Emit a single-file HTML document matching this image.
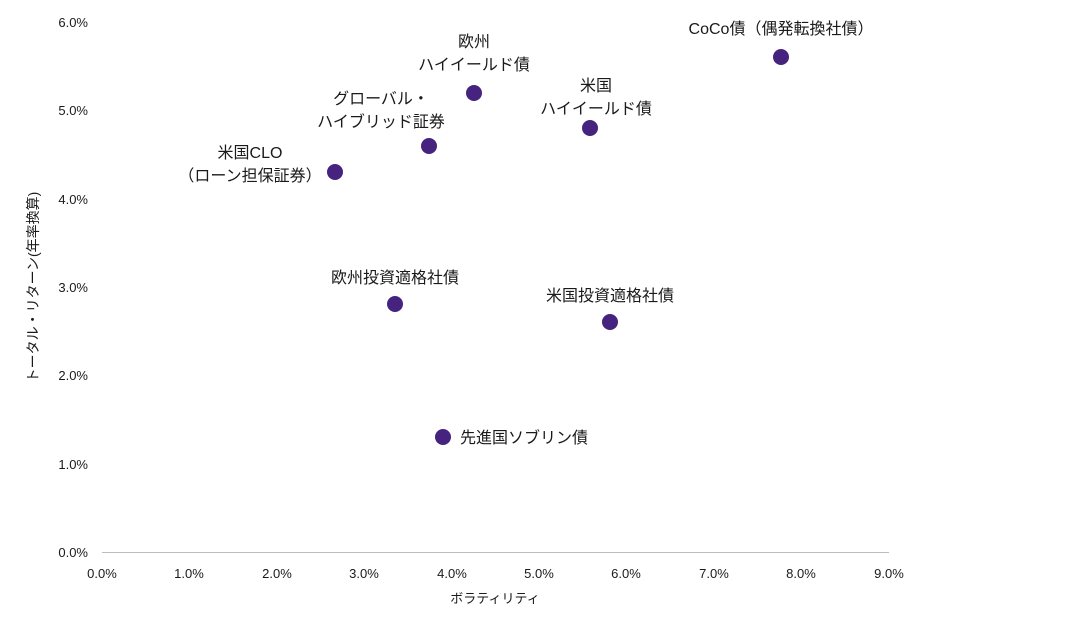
<!DOCTYPE html>
<html><head><meta charset="utf-8"><style>
html,body{margin:0;padding:0;background:#fff;}
svg text{font-family:"Liberation Sans","Noto Sans CJK JP",sans-serif;fill:#1a1a1a;}
</style></head><body>
<svg width="1082" height="615" xmlns="http://www.w3.org/2000/svg">
<line x1="102" y1="552.5" x2="889" y2="552.5" stroke="#bdbdbd" stroke-width="1"/>
<g font-size="13" text-anchor="end">
<text x="88" y="557">0.0%</text>
<text x="88" y="469">1.0%</text>
<text x="88" y="380">2.0%</text>
<text x="88" y="292">3.0%</text>
<text x="88" y="204">4.0%</text>
<text x="88" y="115">5.0%</text>
<text x="88" y="27">6.0%</text>
</g>
<g font-size="13" text-anchor="middle">
<text x="102" y="578">0.0%</text>
<text x="189" y="578">1.0%</text>
<text x="277" y="578">2.0%</text>
<text x="364" y="578">3.0%</text>
<text x="452" y="578">4.0%</text>
<text x="539" y="578">5.0%</text>
<text x="626" y="578">6.0%</text>
<text x="714" y="578">7.0%</text>
<text x="801" y="578">8.0%</text>
<text x="889" y="578">9.0%</text>
</g>
<text x="495" y="603" font-size="13" text-anchor="middle" fill="#444">ボラティリティ</text>
<text transform="translate(38,287) rotate(-90)" font-size="14" text-anchor="middle">トータル・リターン(年率換算)</text>
<g fill="#45237f">
<circle cx="781" cy="57" r="8"/>
<circle cx="474" cy="93" r="8"/>
<circle cx="590" cy="128" r="8"/>
<circle cx="429" cy="146" r="8"/>
<circle cx="335" cy="172" r="8"/>
<circle cx="395" cy="304" r="8"/>
<circle cx="610" cy="322" r="8"/>
<circle cx="443" cy="437" r="8"/>
</g>
<g font-size="16" text-anchor="middle">
<text x="781" y="34">CoCo債（偶発転換社債）</text>
<text x="474" y="47">欧州</text>
<text x="474" y="70">ハイイールド債</text>
<text x="596" y="91">米国</text>
<text x="596" y="114">ハイイールド債</text>
<text x="381" y="104">グローバル・</text>
<text x="381" y="127">ハイブリッド証券</text>
<text x="250" y="158">米国CLO</text>
<text x="250" y="181">（ローン担保証券）</text>
<text x="395" y="283">欧州投資適格社債</text>
<text x="610" y="301">米国投資適格社債</text>
<text x="460" y="443" text-anchor="start">先進国ソブリン債</text>
</g>
</svg>
</body></html>
